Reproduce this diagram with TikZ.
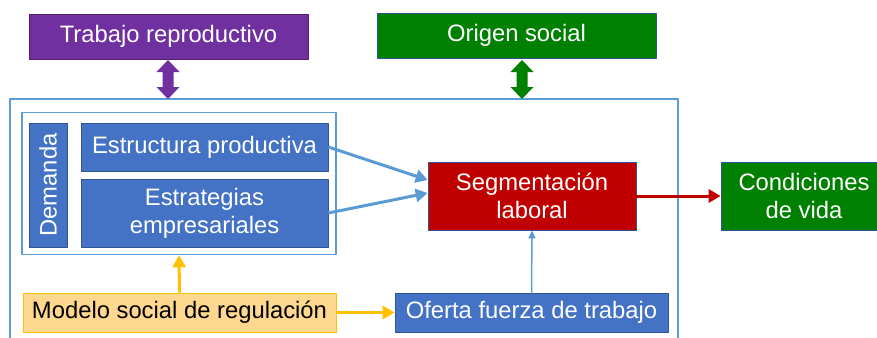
\documentclass[tikz,border=0pt]{standalone}
\usepackage{fontspec}
\setmainfont{Liberation Sans}
\usetikzlibrary{arrows.meta}

\definecolor{azul}{HTML}{4472C4}
\definecolor{azulborde}{HTML}{2F5597}
\definecolor{celeste}{HTML}{5B9BD5}
\definecolor{morado}{HTML}{7030A0}
\definecolor{verde}{HTML}{008000}
\definecolor{rojo}{HTML}{C00000}
\definecolor{naranja}{HTML}{FFC000}
\definecolor{crema}{HTML}{FFD88F}

\begin{document}
\begin{tikzpicture}[x=1pt, y=-1pt, line join=round,
    caja/.style={draw=azulborde, fill=azul, text=white, line width=0.7pt, inner sep=0pt,
        align=center, font=\fontsize{23.8}{28}\selectfont},
    flecha/.style={-{Triangle[length=12pt,width=13pt]}, line width=3pt}]

    \useasboundingbox (0,0) rectangle (877,337);

    % marco exterior
    \draw[celeste, line width=1.5pt] (10,350) -- (10,99) -- (678,99) -- (678,350);

    % cajas de arriba
    \node[caja, fill=morado, draw=morado!70!black, minimum width=279pt, minimum height=45pt] (trabajo) at (168.5,36.5) {Trabajo reproductivo};
    \node[caja, fill=verde, draw=azulborde, minimum width=279pt, minimum height=45pt] (origen) at (516.5,35.5) {Origen social};

    % flechas dobles
    \foreach \x/\c in {168/morado, 522/verde} {
        \fill[\c] (\x-5.5,72) -- (\x-11.5,72) -- (\x,60) -- (\x+11.5,72) -- (\x+5.5,72) -- (\x+5.5,87)
            -- (\x+11.5,87) -- (\x,99) -- (\x-11.5,87) -- (\x-5.5,87) -- cycle;
    }

    % demanda
    \node[draw=celeste, line width=1.5pt, fill=white, minimum width=314pt, minimum height=142pt] (grupo) at (179,183.5) {};
    \node[caja, minimum width=124pt, minimum height=38pt, rotate=90] (demanda) at (48,185) {Demanda};
    \node[caja, minimum width=247pt, minimum height=48pt] (estructura) at (204.5,147) {Estructura productiva};
    \node[caja, minimum width=247pt, minimum height=68pt] (estrategias) at (204.5,213) {Estrategias\\empresariales};

    % segmentacion y condiciones
    \node[caja, fill=rojo, draw=azulborde, minimum width=208pt, minimum height=68pt] (segmentacion) at (532,196) {Segmentación\\laboral};
    \node[caja, fill=verde, draw=azulborde, minimum width=166pt, minimum height=68pt] (condiciones) at (804,196) {Condiciones\\de vida};

    % abajo
    \node[caja, fill=crema, draw=naranja, text=black, minimum width=313pt, minimum height=39pt] (modelo) at (179.5,312.5) {Modelo social de regulación};
    \node[caja, minimum width=273pt, minimum height=39pt] (oferta) at (531.5,312.5) {Oferta fuerza de trabajo};

    % conexiones
    \draw[flecha, celeste] (estructura.east) -- ([yshift=16pt]segmentacion.west);
    \draw[flecha, celeste] (estrategias.east) -- ([yshift=3pt]segmentacion.west);
    \draw[flecha, rojo] (segmentacion.east) -- (condiciones.west);
    \draw[celeste, line width=1.5pt, -{Triangle[length=8pt,width=7pt]}] (oferta.north) -- (segmentacion.south);
    \draw[flecha, naranja] (modelo.north) -- (grupo.south);
    \draw[flecha, naranja] (modelo.east) -- (oferta.west);

\end{tikzpicture}
\end{document}
